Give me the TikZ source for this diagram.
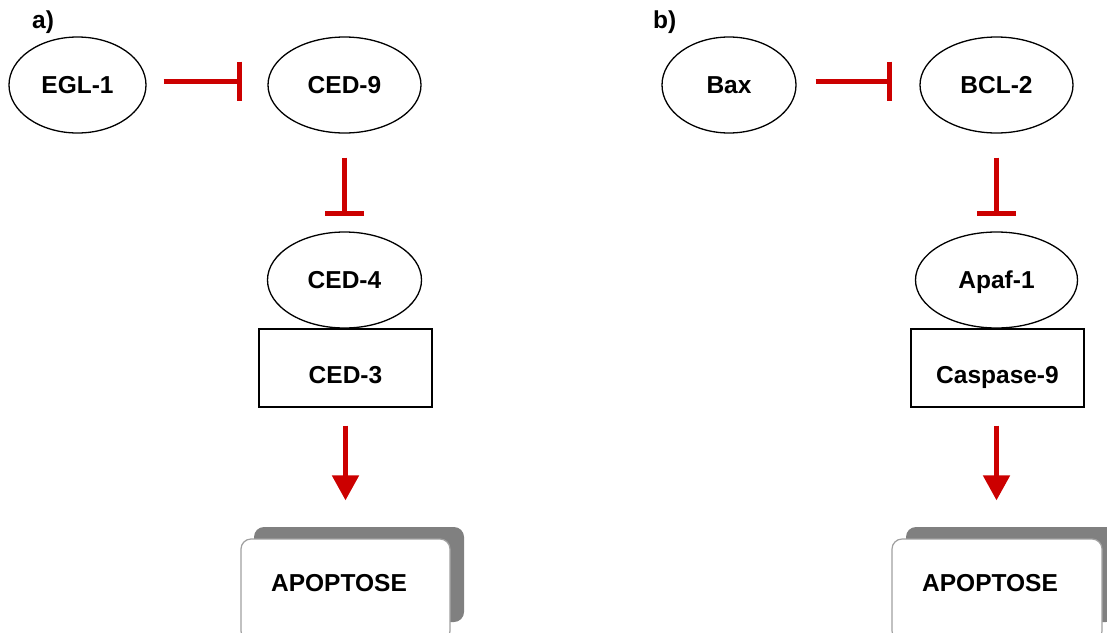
\documentclass[tikz,border=0pt]{standalone}
\usepackage{fontspec}
\setmainfont{Liberation Sans}
\usetikzlibrary{shapes.geometric,arrows.meta,calc}
\definecolor{inhred}{HTML}{CC0000}
\definecolor{shadowgray}{HTML}{808080}
\definecolor{boxgray}{HTML}{A0A0A0}
\begin{document}
\begin{tikzpicture}[x=1pt,y=-1pt,
  every node/.style={font=\fontsize{24.5}{28}\selectfont\bfseries, inner sep=0pt},
  prot/.style={ellipse, draw=black, line width=1.3pt, minimum height=96pt, text height=17.5pt, text depth=0pt},
  casp/.style={rectangle, draw=black, line width=1.3pt, minimum height=78pt, text height=31.5pt, text depth=0pt},
  inh/.style={draw=inhred, line width=5pt, -{Bar[width=39pt,line width=5pt]}},
  act/.style={draw=inhred, line width=5pt, -{Triangle[width=26pt,length=25pt]}},
  shadowbox/.style={rectangle, fill=shadowgray, rounded corners=10pt, minimum width=210pt, minimum height=95pt},
  resultbox/.style={rectangle, draw=boxgray, fill=white, line width=1.2pt, rounded corners=10pt, minimum width=209pt, minimum height=102pt},
  lbl/.style={anchor=base}
]
\clip (0,0) rectangle (1107,632);
\fill[white] (0,0) rectangle (1107,632);

% panel labels
\node[anchor=base west] (la) at (32,28) {a)};
\node[anchor=base west] (lb) at (653,28) {b)};

% ---- panel a ----
\node[prot, minimum width=137pt] (egl) at (77.5,85) {EGL-1};
\node[prot, minimum width=153pt] (ced9) at (344.5,85) {CED-9};
\node[prot, minimum width=154pt] (ced4) at (344.5,280) {CED-4};
\node[casp, minimum width=173pt] (ced3) at (345.5,368) {CED-3};
\node[shadowbox] (shA) at (359,574.5) {};
\node[resultbox] (apopA) at (345.5,590) {};
\node[lbl] (apopAt) at (339,591.8) {APOPTOSE};

\draw[inh] ($(egl.east)+(17,-4)$) -- ($(ced9.west)+(-25,-4)$);
\draw[inh] ($(ced9.south)+(0,24)$) -- ($(ced4.north)+(0,-15.5)$);
\draw[act] ($(ced3.south)+(0,18)$) -- ($(ced3.south |- apopA.north)+(0,-38)$);

% ---- panel b ----
\node[prot, minimum width=134pt] (bax) at (729,85) {Bax};
\node[prot, minimum width=153pt] (bcl2) at (996.5,85) {BCL-2};
\node[prot, minimum width=162pt] (apaf) at (996.5,280) {Apaf-1};
\node[casp, minimum width=173pt] (casp9) at (997.5,368) {Caspase-9};
\node[shadowbox] (shB) at (1011,574.5) {};
\node[resultbox, minimum width=210pt] (apopB) at (997,590) {};
\node[lbl] (apopBt) at (990,591.8) {APOPTOSE};

\draw[inh] ($(bax.east)+(19,-4)$) -- ($(bcl2.west)+(-27.5,-4)$);
\draw[inh] ($(bcl2.south)+(0,24)$) -- ($(apaf.north)+(0,-15.5)$);
\draw[act] ($(apaf.south |- casp9.south)+(0,18)$) -- ($(apaf.south |- apopB.north)+(0,-38)$);
\end{tikzpicture}
\end{document}
